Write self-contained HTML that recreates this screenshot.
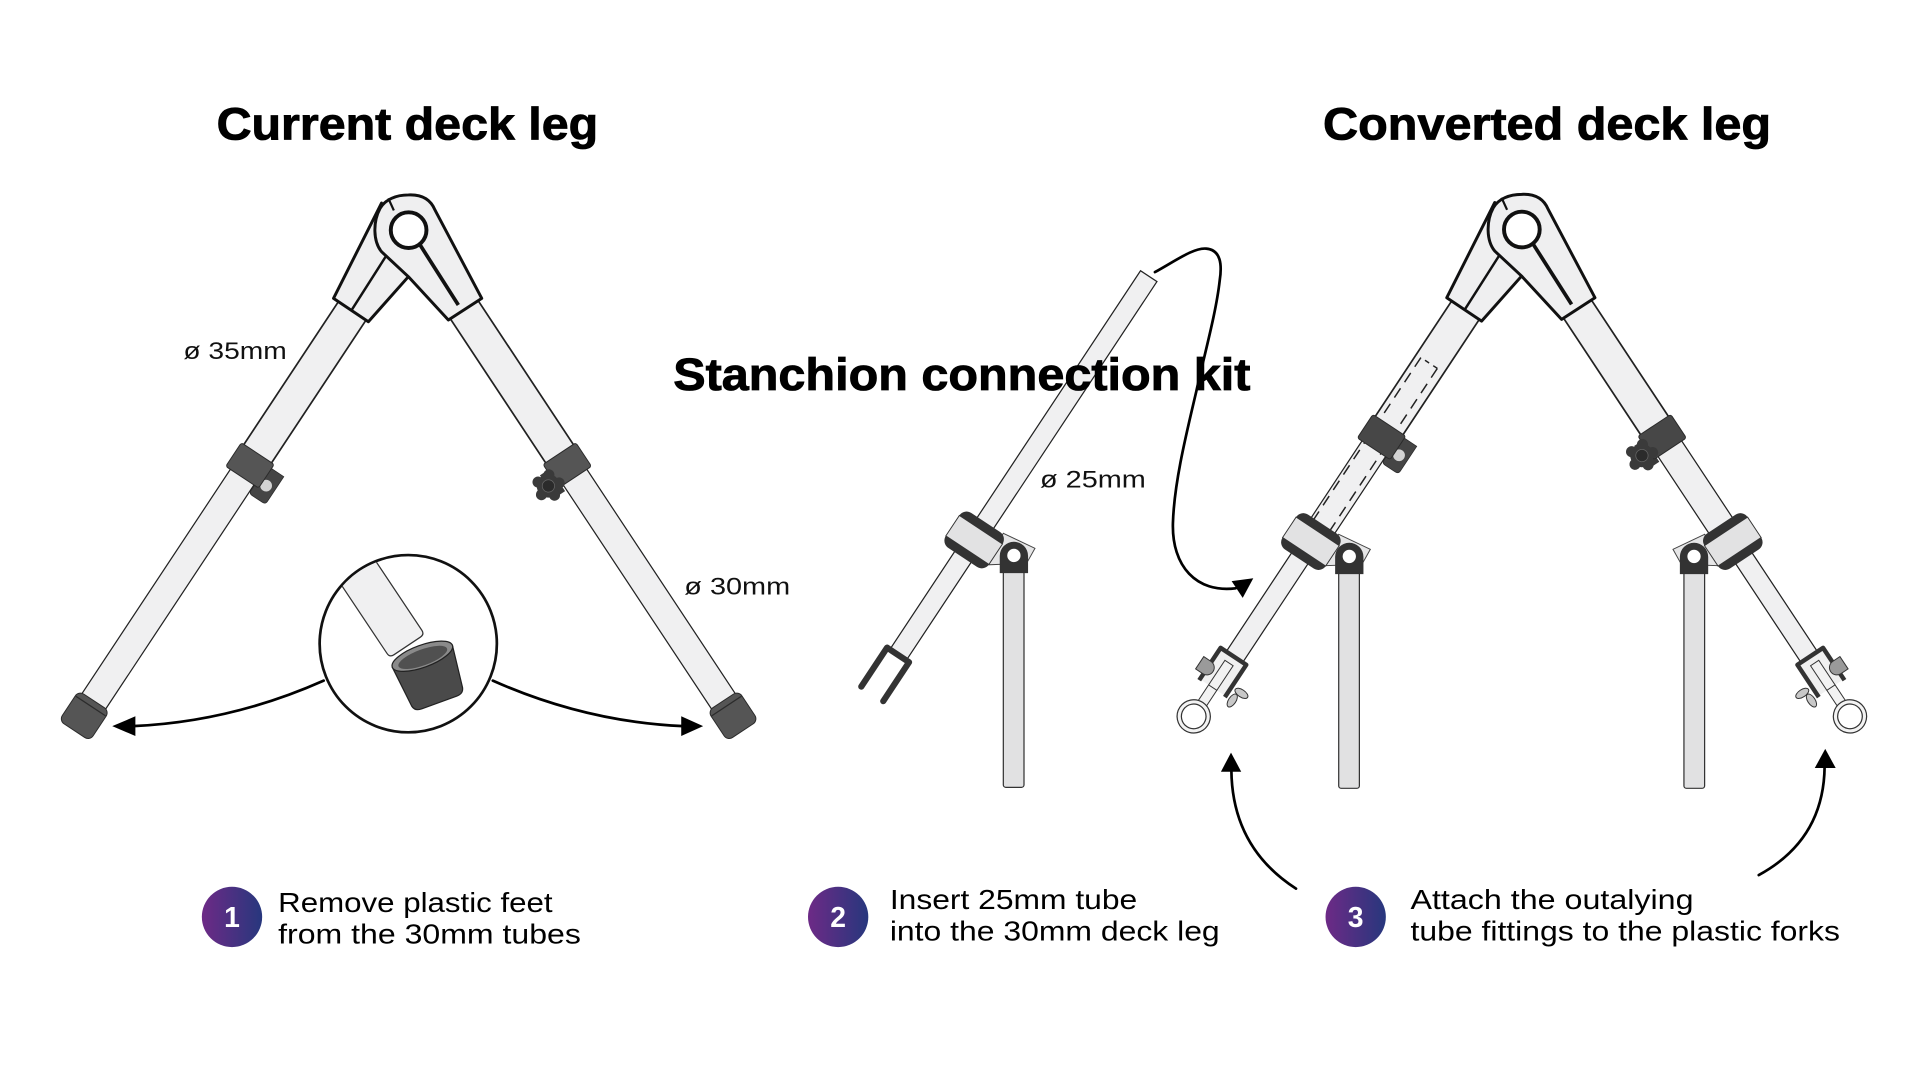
<!DOCTYPE html>
<html><head><meta charset="utf-8"><style>
html,body{margin:0;padding:0;background:#fff;}
svg{display:block;}
.t{fill:#f0f0f1;stroke:#222;stroke-width:1;}
.t2{fill:#f0f0f1;stroke:#222;stroke-width:1.4;}
.dk{fill:#474747;stroke:#2a2a2a;stroke-width:0.8;}
.dk2{fill:#555;stroke:#2a2a2a;stroke-width:0.8;}
.a{fill:#efeff0;stroke:#111;stroke-width:2.4;stroke-linejoin:round;}
.al{stroke:#111;stroke-width:2;fill:none;}
.ttl{font-family:"Liberation Sans",Arial,sans-serif;font-weight:700;font-size:37px;fill:#000;stroke:#000;stroke-width:0.7;}
.lbl{font-family:"Liberation Sans",Arial,sans-serif;font-size:19.5px;fill:#111;}
.stp{font-family:"Liberation Sans",Arial,sans-serif;font-size:22.5px;fill:#000;}
.num{font-family:"Liberation Sans",Arial,sans-serif;font-weight:700;font-size:23px;fill:#fff;}
.arr{fill:none;stroke:#000;stroke-width:2.2;stroke-linecap:round;}
</style></head><body>
<svg xmlns="http://www.w3.org/2000/svg" xmlns:xlink="http://www.w3.org/1999/xlink" width="1920" height="1080" viewBox="0 0 1560 877.5">
<defs>
  <linearGradient id="gr" x1="0" x2="1" y1="0" y2="0">
    <stop offset="0" stop-color="#6d2a86"/><stop offset="1" stop-color="#27377d"/>
  </linearGradient>
  <g id="hub">
    <polygon points="-22,-22 -61,55.4 -32.7,74.4 -0.2,37.8 -10,13" class="a"/>
    <line x1="-46.3" y1="64.9" x2="-17.8" y2="20.2" class="al"/>
    <path d="M-0.2,37.8 L32.3,73 L59.4,55.4 L21.4,-16.4 C17,-27 8,-29 -0.2,-28.6 C-10,-28.6 -19,-25 -23.2,-17.7 C-29,-7 -29,9 -22,17.5 Z" class="a"/>
    <line x1="9.3" y1="12" x2="40.4" y2="60.8" stroke="#111" stroke-width="3"/>
    <line x1="-16.5" y1="-25.9" x2="-12" y2="-16" stroke="#111" stroke-width="1.8"/>
    <circle r="14.5" fill="#fff" stroke="#111" stroke-width="3.2"/>
  </g>
  <g id="bc">
    <rect x="-17" y="-21" width="34" height="42" rx="7" fill="#333"/>
    <rect x="-10" y="-21" width="20" height="42" fill="#e2e2e3" stroke="#333" stroke-width="0.8"/>
  </g>
  <g id="stan">
    <polygon points="23.7,-5.4 49.4,6.8 42.6,19 8.8,20.3" fill="#e6e6e7" stroke="#444" stroke-width="0.8"/>
    <rect x="23.7" y="25" width="16.8" height="176" rx="2" fill="#e1e1e2" stroke="#333" stroke-width="1"/>
    <path d="M20.8,27 V13 A11.5,11.5 0 0 1 43.8,13 V27 Z" fill="#333"/>
    <circle cx="32.3" cy="12.6" r="5.4" fill="#fff"/>
  </g>
  <g id="star">
    <g fill="#3a3a3a">
      <circle r="9.5"/><circle cx="9" cy="0" r="4.5"/><circle cx="2.8" cy="8.6" r="4.5"/>
      <circle cx="-7.3" cy="5.3" r="4.5"/><circle cx="-7.3" cy="-5.3" r="4.5"/><circle cx="2.8" cy="-8.6" r="4.5"/>
    </g>
    <circle r="5" fill="#2b2b2b" stroke="#666" stroke-width="0.6"/>
  </g>
  <g id="hex">
    <path d="M-13,-7 H11 Q14,-7 14,-4 V6 Q14,9 11,9 H-13 Z" fill="#454545" stroke="#2a2a2a" stroke-width="0.6"/>
    <circle cx="1" cy="1" r="4.8" fill="#d3d3d3"/>
  </g>
  <g id="fork">
    <rect x="418" y="0" width="50" height="8" fill="#f2f2f2" stroke="#333" stroke-width="0.8"/>
    <circle cx="477" cy="4" r="13.5" fill="#f3f3f3" stroke="#333" stroke-width="1"/>
    <circle cx="477" cy="4" r="10" fill="#fff" stroke="#333" stroke-width="1"/>
    <rect x="419" y="-8" width="30" height="24" fill="#f0f0f0"/>
    <rect x="425" y="0" width="24" height="8" fill="#f2f2f2" stroke="#333" stroke-width="0.8"/>
    <path d="M450,-8.5 H418.5 V16.5 H450" fill="none" stroke="#333" stroke-width="3.6" stroke-linejoin="round"/>
    <ellipse cx="440" cy="-18" rx="3" ry="6" fill="#c8c8c8" stroke="#333" stroke-width="0.8"/>
    <ellipse cx="449" cy="-15" rx="6" ry="3" fill="#c8c8c8" stroke="#333" stroke-width="0.8"/>
    <path d="M432,17 A6,6 0 0 1 444,17 L444,24 L432,24 Z" fill="#9a9a9a" stroke="#333" stroke-width="0.8"/>
  </g>
</defs>

<!-- ===== Current deck leg ===== -->
<g transform="translate(332,187) rotate(123.5)">
  <rect x="225" y="-9.5" width="242" height="23" class="t"/>
  <rect x="60" y="-11.5" width="172" height="27" class="t2"/>
  <use xlink:href="#hex" href="#hex" transform="translate(236,-19)"/>
  <rect x="219" y="-14" width="23" height="32" rx="2" class="dk2"/>
  <rect x="460" y="-13" width="29" height="30" rx="5" class="dk2"/>
  <line x1="465" y1="-12.5" x2="465" y2="16.5" stroke="#2b2b2b"/>
</g>
<g transform="translate(332,187) scale(-1,1) rotate(123.5)">
  <rect x="225" y="-9.5" width="242" height="23" class="t"/>
  <rect x="60" y="-11.5" width="172" height="27" class="t2"/>
  <rect x="225" y="-21" width="22" height="10" fill="#3a3a3a"/>
  <rect x="219" y="-14" width="23" height="32" rx="2" class="dk2"/>
  <use xlink:href="#star" href="#star" transform="translate(236,-20)"/>
  <rect x="460" y="-13" width="29" height="30" rx="5" class="dk2"/>
  <line x1="465" y1="-12.5" x2="465" y2="16.5" stroke="#2b2b2b"/>
</g>
<use xlink:href="#hub" href="#hub" transform="translate(332,187)"/>

<!-- detail circle -->
<clipPath id="cc"><circle cx="331.7" cy="523" r="71"/></clipPath>
<circle cx="331.7" cy="523" r="72" fill="#fff" stroke="#111" stroke-width="2.2"/>
<g clip-path="url(#cc)">
  <g transform="translate(328.6,521.5) rotate(236.3)">
    <path d="M0,-17 H120 V17 H0 Q-4,17 -4,13 V-13 Q-4,-17 0,-17 Z" fill="#f0f0f1" stroke="#333" stroke-width="1"/>
  </g>
  <g transform="translate(350,552) rotate(-20)">
    <path d="M-26,-20 L-22,15 Q-21,20 -15,20 L15,20 Q21,20 22,15 L26,-20 Z" fill="#4a4a4a" stroke="#222" stroke-width="1"/>
    <ellipse cx="0" cy="-20" rx="26" ry="9" fill="#8a8a8a" stroke="#222" stroke-width="1"/>
    <ellipse cx="0" cy="-19" rx="21" ry="6.5" fill="#505050"/>
  </g>
</g>
<path class="arr" d="M263,553 Q187.7,586.5 108,590"/>
<polygon points="91.2,590 110,582 110,598" fill="#000"/>
<path class="arr" d="M400.4,553 Q475.7,586.5 555,590"/>
<polygon points="571.3,590 553.5,582 553.5,598" fill="#000"/>

<!-- ===== Stanchion kit ===== -->
<use xlink:href="#stan" href="#stan" transform="translate(791.5,438.7)"/>
<g transform="translate(791.5,438.7) rotate(123.5)">
  <rect x="-257" y="-8" width="368" height="16" class="t"/>
  <use xlink:href="#bc" href="#bc"/>
  <path d="M150,-10.7 H112 V10.7 H150" fill="none" stroke="#333" stroke-width="5" stroke-linecap="round" stroke-linejoin="round"/>
</g>

<!-- ===== Converted deck leg ===== -->
<use xlink:href="#stan" href="#stan" transform="translate(1064,439.5)"/>
<use xlink:href="#stan" href="#stan" transform="translate(1408.7,439.5) scale(-1,1)"/>
<g transform="translate(1236.5,186.5) rotate(123.5)">
  <rect x="195" y="-9.5" width="115" height="23" class="t"/>
  <rect x="300" y="-5" width="122" height="16" class="t"/>
  <rect x="60" y="-11.5" width="145" height="27" class="t2"/>
  <line x1="132" y1="-5" x2="292" y2="-5" stroke="#222" stroke-width="1.2" stroke-dasharray="9 6"/>
  <line x1="132" y1="11" x2="292" y2="11" stroke="#222" stroke-width="1.2" stroke-dasharray="9 6"/>
  <line x1="132" y1="-5" x2="132" y2="11" stroke="#222" stroke-width="1.2" stroke-dasharray="4 4"/>
  <use xlink:href="#hex" href="#hex" transform="translate(207,-19)"/>
  <rect x="192" y="-14" width="23" height="32" rx="2" class="dk"/>
  <use xlink:href="#bc" href="#bc" transform="translate(306,3)"/>
  <use xlink:href="#fork" href="#fork"/>
</g>
<g transform="translate(1236.5,186.5) scale(-1,1) rotate(123.5)">
  <rect x="195" y="-9.5" width="115" height="23" class="t"/>
  <rect x="300" y="-5" width="122" height="16" class="t"/>
  <rect x="60" y="-11.5" width="145" height="27" class="t2"/>
  <rect x="197" y="-21" width="22" height="10" fill="#3a3a3a"/>
  <rect x="192" y="-14" width="23" height="32" rx="2" class="dk"/>
  <use xlink:href="#star" href="#star" transform="translate(207,-20)"/>
  <use xlink:href="#bc" href="#bc" transform="translate(306,3)"/>
  <use xlink:href="#fork" href="#fork"/>
</g>
<use xlink:href="#hub" href="#hub" transform="translate(1236.5,186.5)"/>

<!-- ===== Titles & labels ===== -->
<text class="ttl" x="176" y="113.5" textLength="310" lengthAdjust="spacingAndGlyphs">Current deck leg</text>
<text class="ttl" x="1075" y="113.5" textLength="364" lengthAdjust="spacingAndGlyphs">Converted deck leg</text>
<text class="ttl" x="547" y="317" textLength="469" lengthAdjust="spacingAndGlyphs">Stanchion connection kit</text>

<text class="lbl" x="149" y="291.5" textLength="84" lengthAdjust="spacingAndGlyphs">ø 35mm</text>
<text class="lbl" x="556" y="483" textLength="86" lengthAdjust="spacingAndGlyphs">ø 30mm</text>
<text class="lbl" x="845" y="396" textLength="86" lengthAdjust="spacingAndGlyphs">ø 25mm</text>

<!-- connector arrows -->
<path class="arr" d="M938.4,221.1 C955,212 970,201 980,202 C992,203 993,215 991,228 C988,255 978,290 972,318 C964,352 954,392 953,425 C952,460 972,482 1004,478"/>
<polygon points="1000.7,472.2 1018.3,469.8 1009.7,485.8" fill="#000"/>
<path class="arr" d="M1053,722 C1022,702 1001,672 1000.5,626"/>
<polygon points="1000.2,611.5 992,627 1008.5,627" fill="#000"/>
<path class="arr" d="M1429,711 C1462,693 1482,665 1482.5,623"/>
<polygon points="1483,608.5 1474.5,624 1491.5,624" fill="#000"/>

<!-- ===== Steps ===== -->
<circle cx="188.5" cy="745" r="24.5" fill="url(#gr)"/>
<text class="num" x="188.5" y="753" text-anchor="middle">1</text>
<text class="stp" x="226" y="741" textLength="223" lengthAdjust="spacingAndGlyphs">Remove plastic feet</text>
<text class="stp" x="226" y="766.5" textLength="246" lengthAdjust="spacingAndGlyphs">from the 30mm tubes</text>

<circle cx="681" cy="745" r="24.5" fill="url(#gr)"/>
<text class="num" x="681" y="753" text-anchor="middle">2</text>
<text class="stp" x="723" y="738.5" textLength="201" lengthAdjust="spacingAndGlyphs">Insert 25mm tube</text>
<text class="stp" x="723" y="764" textLength="268" lengthAdjust="spacingAndGlyphs">into the 30mm deck leg</text>

<circle cx="1101.5" cy="745" r="24.5" fill="url(#gr)"/>
<text class="num" x="1101.5" y="753" text-anchor="middle">3</text>
<text class="stp" x="1146" y="738.5" textLength="230" lengthAdjust="spacingAndGlyphs">Attach the outalying</text>
<text class="stp" x="1146" y="764" textLength="349" lengthAdjust="spacingAndGlyphs">tube fittings to the plastic forks</text>
</svg>
</body></html>
